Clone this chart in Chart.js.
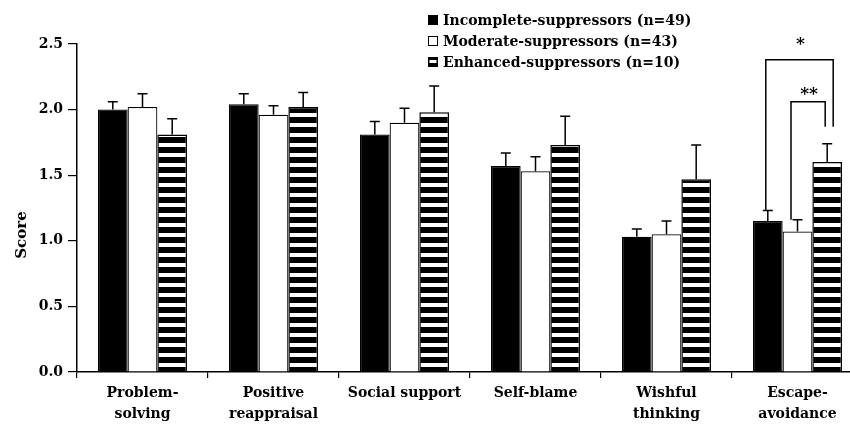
<!DOCTYPE html>
<html><head><meta charset="utf-8">
<script src="https://cdn.jsdelivr.net/npm/chart.js@4.4.0/dist/chart.umd.min.js"></script>
<style>
html,body{margin:0;padding:0;background:#fff;overflow:hidden;width:850px;height:424px}
#wrap{position:absolute;left:0;top:0;width:866px;height:424px}
</style>
</head><body><div id="wrap"><canvas id="c" width="866" height="424"></canvas></div>
<script>
// ---- data ----
const categories = [['Problem-','solving'],['Positive','reappraisal'],'Social support','Self-blame',['Wishful','thinking'],['Escape-','avoidance']];
const seriesNames = ['Incomplete-suppressors (n=49)','Moderate-suppressors (n=43)','Enhanced-suppressors (n=10)'];
const incompleteMeans = [2.00, 2.04, 1.81, 1.57, 1.03, 1.15];
const incompleteErr   = [0.06, 0.08, 0.10, 0.10, 0.06, 0.08];
const moderateMeans   = [2.02, 1.96, 1.90, 1.53, 1.05, 1.07];
const moderateErr     = [0.10, 0.07, 0.11, 0.11, 0.10, 0.09];
const enhancedMeans   = [1.81, 2.02, 1.98, 1.73, 1.47, 1.60];
const enhancedErr     = [0.12, 0.11, 0.20, 0.22, 0.26, 0.14];
const yTicks = [0, 0.5, 1.0, 1.5, 2.0, 2.5];
const yTitle = 'Score';
const sigLabels = ['*', '**'];

// ---- styles ----
const FONT = 'DejaVu Serif';
const ctx = document.getElementById('c').getContext('2d');
function stripePattern(){
  const c = document.createElement('canvas'); c.width = 10; c.height = 10;
  const g = c.getContext('2d');
  g.fillStyle = '#000'; g.fillRect(0,0,10,10);
  g.fillStyle = '#fff'; g.fillRect(0,3,10,4);
  return ctx.createPattern(c, 'repeat');
}
const stripe = stripePattern();

const errorsByDataset = [incompleteErr, moderateErr, enhancedErr];

const errorBarPlugin = {
  id: 'errorBars',
  afterDatasetsDraw(chart){
    const c = chart.ctx, ys = chart.scales.y;
    c.save(); c.strokeStyle = '#000'; c.lineWidth = 1.5;
    chart.data.datasets.forEach((ds, i) => {
      const meta = chart.getDatasetMeta(i);
      meta.data.forEach((el, j) => {
        const top = ys.getPixelForValue(ds.data[j] + errorsByDataset[i][j]);
        c.beginPath();
        c.moveTo(el.x, el.y); c.lineTo(el.x, top);
        c.moveTo(el.x - 5, top); c.lineTo(el.x + 5, top);
        c.stroke();
      });
    });
    c.restore();
  }
};

const extrasPlugin = {
  id: 'extras',
  afterDraw(chart){
    const c = chart.ctx, ys = chart.scales.y;
    c.save();
    // legend
    const rows = [20, 41, 62];
    c.font = 'bold 14px "' + FONT + '"';
    c.textBaseline = 'middle'; c.textAlign = 'left'; c.fillStyle = '#000';
    rows.forEach((ry, i) => {
      const bx = 428, by = ry - 5;
      c.lineWidth = 1; c.strokeStyle = '#000';
      if (i === 0){ c.fillStyle = '#000'; c.fillRect(bx, by, 10, 10); }
      else if (i === 1){ c.fillStyle = '#fff'; c.fillRect(bx, by, 10, 10); c.strokeRect(bx+0.5, by+0.5, 9, 9); }
      else { c.fillStyle = '#000'; c.fillRect(bx, by, 10, 10); c.fillStyle = '#fff'; c.fillRect(bx+1.5, by+3, 7, 3); }
      c.fillStyle = '#000';
      c.fillText(seriesNames[i], 443, ry + 1);
    });
    // y title
    c.save();
    c.translate(22, 235); c.rotate(-Math.PI/2);
    c.textAlign = 'center'; c.textBaseline = 'middle';
    c.font = 'bold 15px "' + FONT + '"';
    c.fillText(yTitle, 0, 0);
    c.restore();
    // significance brackets (last category)
    const j = categories.length - 1;
    const m = [0,1,2].map(i => chart.getDatasetMeta(i).data[j]);
    const ds = chart.data.datasets;
    const brackets = [
      {a:0, b:2, dxa:-2, dxb:6, top:2.38, rightBottom:1.87, label:sigLabels[0], ly:18},
      {a:1, b:2, dxa:-6.5, dxb:-2, top:2.06, rightBottom:1.87, label:sigLabels[1], ly:10}
    ];
    c.strokeStyle = '#000'; c.lineWidth = 1.5;
    brackets.forEach(br => {
      const xa = m[br.a].x + br.dxa, xb = m[br.b].x + br.dxb;
      const yt = ys.getPixelForValue(br.top);
      const ya = ys.getPixelForValue(ds[br.a].data[j] + errorsByDataset[br.a][j]);
      const yb = ys.getPixelForValue(br.rightBottom);
      c.beginPath();
      c.moveTo(xa, ya); c.lineTo(xa, yt); c.lineTo(xb, yt); c.lineTo(xb, yb);
      c.stroke();
      c.font = 'bold 17px "' + FONT + '"';
      c.textAlign = 'center'; c.textBaseline = 'middle';
      c.fillText(br.label, (xa + xb)/2 + 1, yt - br.ly + 3);
    });
    c.restore();
  }
};

const tickFont = {family: FONT, weight: 'bold', size: 14, lineHeight: 1.5};

new Chart(ctx, {
  type: 'bar',
  data: {
    labels: categories,
    datasets: [
      {label: seriesNames[0], data: incompleteMeans, backgroundColor: '#000', borderColor: '#000', borderWidth: 1.2},
      {label: seriesNames[1], data: moderateMeans, backgroundColor: '#fff', borderColor: '#000', borderWidth: 1.2},
      {label: seriesNames[2], data: enhancedMeans, backgroundColor: stripe, borderColor: '#000', borderWidth: 1.5}
    ]
  },
  options: {
    responsive: false, animation: false,
    devicePixelRatio: 1,
    layout: {padding: {top: 44, right: 3, left: 0, bottom: 0}},
    datasets: {bar: {categoryPercentage: 0.68, barPercentage: 1.0}},
    plugins: {legend: {display: false}, tooltip: {enabled: false}},
    scales: {
      x: {
        grid: {display: true, drawOnChartArea: false, drawTicks: true, tickLength: 6, color: '#000', lineWidth: 1.2, offset: true},
        border: {display: true, color: '#000', width: 1.5},
        ticks: {color: '#000', font: tickFont, padding: 5, maxRotation: 0, minRotation: 0, autoSkip: false},
        afterFit(s){ s.height = 52; }
      },
      y: {
        min: 0, max: 2.5,
        afterBuildTicks(s){ s.ticks = yTicks.map(v => ({value: v})); },
        ticks: {color: '#000', font: {family: FONT, weight: 'bold', size: 14}, padding: 5, callback: v => Number(v).toFixed(1)},
        grid: {display: true, drawOnChartArea: false, drawTicks: true, tickLength: 9, color: '#000', lineWidth: 1.2},
        border: {display: true, color: '#000', width: 1.5},
        afterFit(s){ s.width = 77; }
      }
    }
  },
  plugins: [errorBarPlugin, extrasPlugin]
});
</script>
</body></html>
